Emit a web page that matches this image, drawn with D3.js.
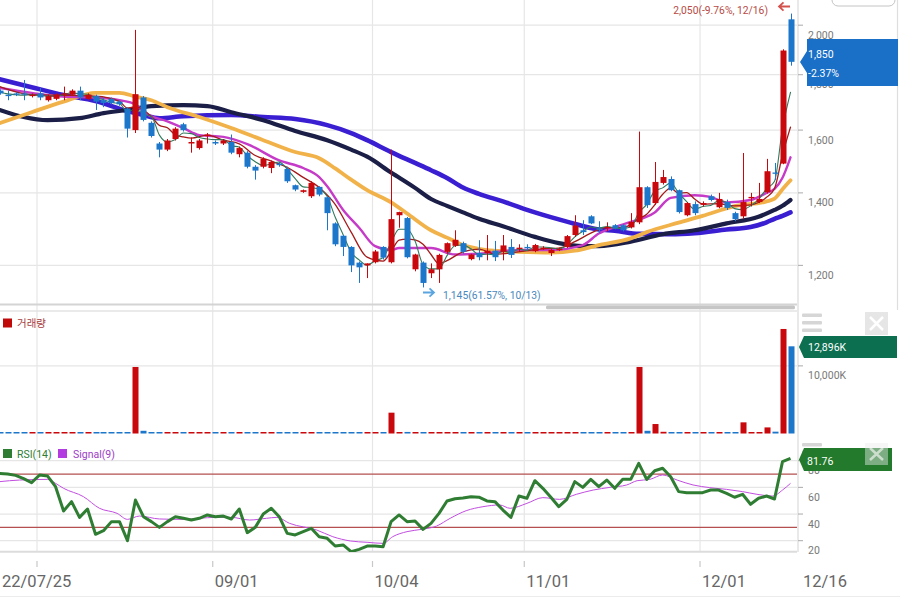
<!DOCTYPE html>
<html><head><meta charset="utf-8">
<script src="https://cdn.jsdelivr.net/npm/d3@7"></script>
<style>
html,body{margin:0;padding:0;background:#fff;}
svg{display:block;font-family:Roboto,"Noto Sans","Noto Sans CJK KR",sans-serif;}
</style></head><body>
<svg id="c" width="900" height="598"></svg>
<script>
// ---------------- DATA ----------------
const opens = [1740,1725,1730,1730,1720,1730,1705,1710,1725,1725,
  1740,1710,1720,1705,1710,1700,1675,1600,1715,1625,
  1555,1535,1570,1620,1555,1540,1580,1560,1555,1560,
  1520,1525,1480,1480,1476,1490,1473,1423,1403,1390,
  1418,1387,1312,1278,1248,1207,1200,1208,1248,1208,
  1335,1327,1190,1207,1180,1190,1235,1251,1258,1216,
  1232,1232,1238,1235,1248,1243,1248,1237,1243,1232,
  1240,1248,1280,1293,1332,1298,1298,1307,1307,1301,
  1315,1417,1370,1430,1442,1408,1335,1367,1365,1390,
  1358,1373,1341,1332,1385,1373,1402,1462,1490,2025];
const highs = [1745,1740,1735,1780,1730,1750,1725,1730,1755,1745,
  1755,1730,1725,1715,1715,1705,1680,1980,1720,1630,
  1560,1570,1610,1625,1575,1570,1590,1565,1570,1585,
  1545,1530,1485,1510,1500,1495,1480,1425,1410,1435,
  1420,1390,1315,1280,1250,1210,1205,1240,1250,1535,
  1345,1330,1230,1210,1205,1230,1260,1293,1262,1230,
  1266,1280,1264,1280,1269,1255,1255,1256,1250,1243,
  1246,1280,1335,1321,1335,1318,1315,1310,1310,1341,
  1595,1420,1495,1470,1450,1410,1373,1375,1375,1395,
  1400,1380,1345,1524,1400,1430,1505,1492,1900,2050];
const lows = [1725,1705,1720,1705,1715,1705,1700,1705,1705,1720,
  1705,1705,1670,1680,1690,1685,1575,1590,1630,1575,
  1510,1530,1565,1595,1525,1535,1555,1550,1550,1520,
  1510,1475,1440,1475,1460,1480,1430,1405,1400,1385,
  1390,1293,1250,1224,1183,1156,1168,1205,1215,1205,
  1300,1218,1185,1145,1168,1156,1230,1248,1230,1213,
  1213,1213,1211,1213,1219,1235,1240,1234,1240,1224,
  1237,1245,1275,1280,1310,1285,1290,1296,1290,1298,
  1310,1356,1365,1425,1405,1340,1332,1335,1360,1375,
  1355,1350,1318,1325,1360,1370,1398,1439,1488,1835];
const closes = [1730,1720,1725,1725,1725,1715,1720,1725,1730,1740,
  1715,1725,1700,1695,1695,1690,1605,1727,1635,1580,
  1535,1565,1605,1600,1560,1565,1585,1555,1565,1525,
  1540,1480,1468,1505,1495,1485,1435,1410,1408,1430,
  1395,1341,1255,1248,1200,1195,1205,1236,1220,1324,
  1344,1221,1228,1156,1190,1227,1258,1267,1235,1228,
  1221,1238,1221,1252,1227,1246,1245,1253,1246,1240,
  1243,1277,1306,1288,1312,1296,1302,1298,1293,1316,
  1417,1364,1433,1448,1408,1344,1370,1341,1370,1379,
  1382,1356,1324,1373,1388,1382,1466,1458,1895,1850];
// volume in thousands of shares
const volumes = [180,150,160,170,140,150,160,150,170,160,
  150,160,170,150,160,150,200,9840,400,200,
  180,160,170,150,160,150,160,140,150,160,
  150,170,160,150,160,140,170,160,150,160,
  170,200,220,190,200,210,180,190,170,3080,
  200,230,190,210,180,200,170,160,150,140,
  150,160,150,160,140,150,130,150,140,150,
  140,160,180,150,160,150,140,150,140,160,
  9840,400,1400,250,150,140,150,130,120,140,
  150,140,130,1650,160,180,900,270,15460,12896];
const rsi14 = [70.5,70,69,66.5,63.5,69.3,68.5,60.5,42.3,49.3,
  37.5,43.8,24.8,27.5,34.3,34.3,20,50.5,38,34.3,
  30,34.3,38,36.8,35.5,36.8,39.3,38,38.5,36.3,
  43.8,26,30,40,44.3,38,25.5,24.3,26.8,29.3,
  23,21.8,16,16.8,11.8,13.5,16,16,15.5,34.3,
  39.3,34.3,34.8,28.5,33,40.5,49.8,51.5,52,53,
  52.6,49.8,49.3,43,37.5,53.5,51.8,65,59.3,52.6,
  45.5,51,64.3,60,66,60.5,65.5,59.3,66,66,
  78,66,72.5,74.3,68,56.8,56,56,56,58,
  58,55.5,52.6,54.8,47.3,51.8,53.5,51.3,79.3,81.76];
const signalIdx = [0,2.5,6,7,8,10.5,12.5,14.7,16,17.5,20,23,25,27,29,31.3,33.4,34.7,36.3,39.7,41.7,43.9,46,48,49.2,51,52.8,54.7,56.4,58.4,60.5,62.6,63.9,66,68,70.1,72.2,74.3,76.4,78.5,79.8,81.4,83,84.8,86.8,88.9,91,93,94.8,96.8,98,99];
const signalVal = [64.3,65.5,66,63,59.3,53,44.3,40.5,36,38.5,36.3,36,36.8,37.5,37.5,35.5,36.8,37.5,33,28,23,19.8,18.8,18,23,26.8,28.5,31,36.8,42.5,45.5,46.8,44.3,48,52.3,51,54.8,58,60,61.8,65,66,69.3,65.5,61.8,59.8,58.5,56.8,54.8,53.5,58,63];
// moving averages
const ma3 = [1735,1728,1725,1723,1725,1722,1720,1720,1725,1732,
  1728,1727,1713,1707,1697,1693,1663,1674,1656,1647,
  1583,1560,1568,1590,1588,1575,1570,1568,1568,1548,
  1543,1515,1496,1484,1489,1495,1472,1443,1418,1416,
  1411,1389,1330,1281,1234,1214,1200,1212,1220,1260,
  1296,1296,1264,1202,1191,1191,1225,1251,1253,1243,
  1228,1229,1227,1237,1233,1242,1239,1248,1248,1246,
  1243,1253,1275,1290,1302,1299,1303,1299,1298,1302,
  1342,1366,1405,1415,1430,1400,1374,1352,1360,1363,
  1377,1372,1354,1351,1362,1381,1412,1435,1606,1734];
const ma5Idx = [0,4,8,12,15,16,17,18,19,20,21,22,23,24,26,28,30,32,34,36,38,40,42,44,46,48,49,50,51,52,53,54,55,56,58,60,62,64,66,68,70,72,74,76,78,80,81,82,83,84,85,86,87,88,90,92,94,96,97,98,99];
const ma5Val = [1755,1725,1723,1720,1701,1677,1682,1670,1647,1616,1608,1584,1577,1573,1583,1566,1554,1516,1498,1478,1447,1416,1366,1288,1221,1211,1236,1266,1269,1267,1255,1228,1204,1212,1235,1242,1229,1232,1238,1243,1245,1262,1285,1301,1300,1325,1338,1365,1396,1414,1399,1401,1382,1367,1368,1362,1365,1387,1413,1518,1610];
const ma10Idx = [0,4,8,12,15,17,18,21,23,25,28,31,35,38,40,41,43,45,47,49,50,54,57,60,65,69,73,75,77,79,82,84,87,89,91,94,96,97,98,99];
const ma10Val = [1750,1732,1718,1715,1705,1690,1663,1630,1607,1583,1577,1553,1500,1476,1448,1420,1350,1300,1250,1240,1245,1245,1228,1230,1240,1240,1253,1284,1302,1316,1343,1385,1393,1388,1372,1379,1400,1412,1446,1510];
const ma20Idx = [0,4,8,12,15,17,19,21,25,29,33,37,40,42,44,46,49,51,54,56,58,60,62,65,69,72,75,79,81,85,88,92,96,97,98,99];
const ma20Val = [1624,1662,1700,1732,1732,1718,1705,1680,1645,1607,1566,1527,1507,1475,1440,1408,1372,1340,1293,1273,1253,1243,1238,1235,1233,1238,1253,1271,1288,1314,1333,1361,1375,1383,1411,1438];
const ma60Idx = [0,3,6,10,13,16,19,23,26,29,33,37,41,44,46,49,52,54,56,58,60,63,67,70,73,75,79,83,87,91,95,97,98,99];
const ma60Val = [1670,1645,1634,1641,1659,1670,1684,1687,1684,1662,1634,1597,1566,1535,1512,1462,1415,1382,1362,1343,1325,1304,1275,1258,1250,1250,1262,1282,1293,1312,1331,1350,1362,1379];
const ma120Idx = [0,4,8,12,16,18,20,23,29,33,37,41,44,46,49,52,54,56,58,60,63,67,71,75,77,80,84,87,91,94,96,97,98,99];
const ma120Val = [1783,1753,1724,1702,1666,1652,1641,1648,1652,1645,1638,1617,1590,1566,1527,1492,1469,1445,1416,1397,1375,1343,1317,1295,1292,1283,1282,1285,1295,1302,1315,1325,1333,1343];
const xTickIdx = [5,27,47,66,88];
const xTickLabels = ["22/07/25","09/01","10/04","11/01","12/01"];
const lastDateLabel = "12/16";
const priceTicks = [1200,1400,1600,1800,2000];
const volTicks = [10000];
const rsiTicks = [20,40,60,80];
const rsiBands = [70,30];

// ---------------- CHART ----------------
const svg = d3.select("#c");
const PW = 797; // plot width
const x = d3.scaleLinear().domain([0, closes.length - 1]).range([-0.35, 790.5]);
const yP = d3.scaleLog().domain([1103, 2110]).range([305, 0]);
const yV = d3.scaleLinear().domain([0, 18000]).range([433.5, 311.8]);
const yR = d3.scaleLinear().domain([20, 80]).range([540.7, 460.7]);
const UP = "#c8080c", DOWN = "#1c77ca";
const GRID = "#e6e6e6";

const defs = svg.append("defs");
defs.append("clipPath").attr("id","cp").append("rect").attr("x",0).attr("y",0).attr("width",PW).attr("height",303);
defs.append("clipPath").attr("id","cv").append("rect").attr("x",0).attr("y",312).attr("width",PW).attr("height",122);
defs.append("clipPath").attr("id","cr").append("rect").attr("x",0).attr("y",441).attr("width",PW).attr("height",111);

// vertical grid
const gx = t => x(t) - 2.6;
svg.append("g").selectAll("line").data(xTickIdx).join("line")
  .attr("x1", d => gx(d)).attr("x2", d => gx(d)).attr("y1", 0).attr("y2", 552)
  .attr("stroke", GRID).attr("stroke-width", 1.2);
// x ticks
svg.append("g").selectAll("line").data(xTickIdx).join("line")
  .attr("x1", d => gx(d)).attr("x2", d => gx(d)).attr("y1", 561).attr("y2", 567)
  .attr("stroke", "#c8c8c8").attr("stroke-width", 1.2);

// price horizontal grid
svg.append("g").selectAll("line").data(priceTicks).join("line")
  .attr("x1", 0).attr("x2", PW).attr("y1", d => yP(d)).attr("y2", d => yP(d))
  .attr("stroke", GRID).attr("stroke-width", 1.2);
// volume grid
svg.append("g").selectAll("line").data(volTicks).join("line")
  .attr("x1", 0).attr("x2", PW).attr("y1", d => yV(d)).attr("y2", d => yV(d))
  .attr("stroke", GRID).attr("stroke-width", 1.2);
// rsi grid
svg.append("g").selectAll("line").data(rsiTicks).join("line")
  .attr("x1", 0).attr("x2", PW).attr("y1", d => yR(d)).attr("y2", d => yR(d))
  .attr("stroke", GRID).attr("stroke-width", 1.2);
svg.append("line").attr("x1",0).attr("x2",PW).attr("y1",551.7).attr("y2",551.7).attr("stroke","#dcdcdc").attr("stroke-width",2);
svg.append("g").selectAll("line").data(rsiBands).join("line")
  .attr("x1", 0).attr("x2", PW).attr("y1", d => yR(d)).attr("y2", d => yR(d))
  .attr("stroke", "#b55050").attr("stroke-width", 1.2);

// panel separators
svg.append("line").attr("x1",0).attr("x2",PW).attr("y1",304.5).attr("y2",304.5).attr("stroke","#d4d4d4").attr("stroke-width",1.8);
svg.append("line").attr("x1",0).attr("x2",PW).attr("y1",311).attr("y2",311).attr("stroke","#e3e3e3").attr("stroke-width",1.5);
svg.append("rect").attr("x",546).attr("y",305.6).attr("width",249).attr("height",3.6).attr("rx",1.5).attr("fill","#c6c6c6");
svg.append("line").attr("x1",798).attr("x2",798).attr("y1",0).attr("y2",552).attr("stroke","#dadada").attr("stroke-width",1.2);
svg.append("line").attr("x1",897.5).attr("x2",897.5).attr("y1",0).attr("y2",310).attr("stroke","#dedede").attr("stroke-width",1.2);
svg.append("line").attr("x1",0).attr("x2",900).attr("y1",596.5).attr("y2",596.5).attr("stroke","#ececec").attr("stroke-width",1.2);

// ---- price panel ----
const gp = svg.append("g").attr("clip-path","url(#cp)");
function maLine(idx, vals, color, w) {
  const pts = idx.map((d,i) => [x(d), yP(vals[i])]);
  gp.append("path").attr("d", d3.line().curve(d3.curveMonotoneX)(pts))
    .attr("fill","none").attr("stroke",color).attr("stroke-width",w)
    .attr("stroke-linejoin","round").attr("stroke-linecap","round");
}
maLine(ma120Idx, ma120Val, "#3a1fd2", 4.6);
maLine(ma60Idx, ma60Val, "#1b1e46", 4.2);
maLine(ma20Idx, ma20Val, "#f1b24a", 3.8);
maLine(ma10Idx, ma10Val, "#c63ac8", 2.4);
maLine(ma5Idx, ma5Val, "#a51a1a", 1.3);
maLine(d3.range(ma3.length), ma3, "#2f7a5c", 1.1);

const idx = d3.range(closes.length);
const cg = gp.append("g");
cg.selectAll("line").data(idx).join("line")
  .attr("x1", i => Math.round(x(i)) + 0.5).attr("x2", i => Math.round(x(i)) + 0.5)
  .attr("y1", i => yP(highs[i])).attr("y2", i => yP(lows[i]))
  .attr("stroke", i => closes[i] >= opens[i] ? UP : DOWN).attr("stroke-width", 1);
cg.selectAll("rect").data(idx).join("rect")
  .attr("x", i => Math.round(x(i)) - 2.5).attr("width", 6)
  .attr("y", i => yP(Math.max(opens[i], closes[i])))
  .attr("height", i => Math.max(1.3, yP(Math.min(opens[i], closes[i])) - yP(Math.max(opens[i], closes[i]))))
  .attr("fill", i => closes[i] >= opens[i] ? UP : DOWN);

// price axis
const axP = svg.append("g");
axP.selectAll("line").data(priceTicks).join("line")
  .attr("x1",798).attr("x2",803).attr("y1",d=>yP(d)).attr("y2",d=>yP(d)).attr("stroke","#aaa");
axP.selectAll("text").data(priceTicks).join("text")
  .attr("x",808).attr("y",d=>yP(d)+13.5).text(d3.format(","))
  .attr("font-size",10.5).attr("fill","#777");

// annotations
svg.append("text").attr("x",768).attr("y",14).attr("text-anchor","end")
  .attr("font-size",10.3).attr("fill","#b84a44").text("2,050(-9.76%, 12/16)");
svg.append("path").attr("d","M790,6.5 L779,6.5 M783.5,2.3 L779,6.5 L783.5,10.7")
  .attr("fill","none").attr("stroke","#d4524c").attr("stroke-width",1.8);
svg.append("text").attr("x",443).attr("y",298.8)
  .attr("font-size",10.3).attr("fill","#4a88bd").text("1,145(61.57%, 10/13)");
svg.append("path").attr("d","M423,292.5 L434,292.5 M429.5,288.3 L434,292.5 L429.5,296.7")
  .attr("fill","none").attr("stroke","#5aa5e0").attr("stroke-width",1.8);

// top-right button outline
svg.append("rect").attr("x",832).attr("y",-10).attr("width",63).attr("height",16).attr("rx",6)
  .attr("fill","#fff").attr("stroke","#c4c4c4");

// current price box
svg.append("path").attr("d","M807,39 L898,39 L898,86 L807,86 L807,73 L800,62 L807,51 Z").attr("fill","#1a6fc6");
svg.append("text").attr("x",808).attr("y",58).attr("font-size",10.5).attr("fill","#fff").text("1,850");
svg.append("text").attr("x",808).attr("y",76.5).attr("font-size",10.5).attr("fill","#fff").text("-2.37%");

// ---- volume panel ----
const gv = svg.append("g").attr("clip-path","url(#cv)");
gv.selectAll("rect").data(idx).join("rect")
  .attr("x", i => Math.round(x(i)) - 2.5).attr("width", 6)
  .attr("y", i => Math.min(yV(volumes[i]), yV(0) - 1.5))
  .attr("height", i => Math.max(1.5, yV(0) - yV(volumes[i])))
  .attr("fill", i => closes[i] >= opens[i] ? UP : DOWN);
svg.append("g").selectAll("line").data(volTicks).join("line")
  .attr("x1",798).attr("x2",803).attr("y1",d=>yV(d)).attr("y2",d=>yV(d)).attr("stroke","#aaa");
svg.append("g").selectAll("text").data(volTicks).join("text")
  .attr("x",808).attr("y",d=>yV(d)+13).attr("font-size",10.5).attr("fill","#777")
  .text(d => d3.format(",")(d) + "K");
svg.append("rect").attr("x",3).attr("y",318.5).attr("width",9).attr("height",9).attr("fill","#c00a0a");
svg.append("text").attr("x",17).attr("y",327).attr("font-size",10.5).attr("fill","#a83c3c").text("거래량");
// menu + close icons
function icons(y0) {
  [0,7.5,15].forEach(o => svg.append("rect").attr("x",802).attr("y",y0+o).attr("width",20).attr("height",3.5).attr("rx",1).attr("fill","#d6d6d6"));
}
icons(313.5);
svg.append("rect").attr("x",865).attr("y",312).attr("width",23).attr("height",23).attr("fill","#e6e6e6");
svg.append("path").attr("d","M870,317 L883,330 M883,317 L870,330").attr("stroke","#fff").attr("stroke-width",2.5);
svg.append("path").attr("d","M804,336 L897,336 L897,358 L804,358 L799,347 Z").attr("fill","#0b6f50");
svg.append("text").attr("x",808).attr("y",351).attr("font-size",10.5).attr("fill","#fff").text("12,896K");

// ---- RSI panel ----
const gr = svg.append("g").attr("clip-path","url(#cr)");
gr.append("path").attr("d", d3.line().curve(d3.curveMonotoneX)(signalIdx.map((d,i)=>[x(d), yR(signalVal[i])])))
  .attr("fill","none").attr("stroke","#c24ee0").attr("stroke-width",1);
gr.append("path").attr("d", d3.line()(rsi14.map((v,i)=>[x(i), yR(v)])))
  .attr("fill","none").attr("stroke","#2e7d32").attr("stroke-width",3).attr("stroke-linejoin","round");
svg.append("g").selectAll("line").data(rsiTicks).join("line")
  .attr("x1",798).attr("x2",803).attr("y1",d=>yR(d)).attr("y2",d=>yR(d)).attr("stroke","#aaa");
svg.append("g").selectAll("text").data(rsiTicks).join("text")
  .attr("x",808).attr("y",d=>yR(d)+13.5).attr("font-size",10.5).attr("fill","#777").text(d=>d);
svg.append("rect").attr("x",3).attr("y",449).attr("width",9).attr("height",9).attr("fill","#2e7d32");
svg.append("text").attr("x",17).attr("y",457.5).attr("font-size",10.5).attr("fill","#2e7d32").text("RSI(14)");
svg.append("rect").attr("x",58).attr("y",449).attr("width",9).attr("height",9).attr("fill","#b23ce0");
svg.append("text").attr("x",73).attr("y",457.5).attr("font-size",10.5).attr("fill","#9c3cc8").text("Signal(9)");
icons(443);
svg.append("path").attr("d","M804,448 L892,448 L892,471 L804,471 L799,459.5 Z").attr("fill","#247a2c");
svg.append("text").attr("x",807).attr("y",465).attr("font-size",10.5).attr("fill","#fff").text("81.76");
svg.append("rect").attr("x",865).attr("y",443).attr("width",23).attr("height",22).attr("fill","rgba(235,235,235,0.45)");
svg.append("path").attr("d","M870,448 L883,460 M883,448 L870,460").attr("stroke","rgba(255,255,255,0.6)").attr("stroke-width",2.5);

// ---- x axis labels ----
const xl = svg.append("g").attr("font-size",16.5).attr("fill","#666");
xl.selectAll("text").data(xTickIdx).join("text")
  .attr("x", (d,i) => i === 0 ? 2 : gx(d) + 2).attr("y", 587)
  .text((d,i) => xTickLabels[i]);
xl.append("text").attr("x",803).attr("y",587).text(lastDateLabel);
</script>
</body></html>
